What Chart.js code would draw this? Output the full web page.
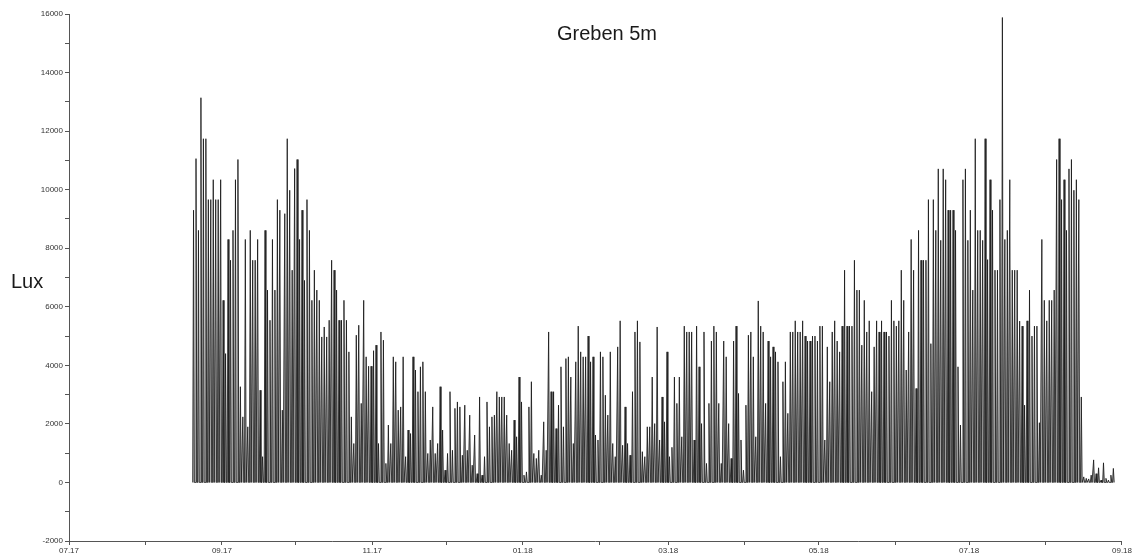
<!DOCTYPE html>
<html>
<head>
<meta charset="utf-8">
<script src="https://cdn.jsdelivr.net/npm/chart.js@4/dist/chart.umd.min.js"></script>
<style>
  html, body { margin: 0; padding: 0; background: #fff; }
  #wrap { width: 1133px; height: 558px; }
</style>
</head>
<body>
<div id="wrap"><canvas id="c" width="1133" height="558"></canvas></div>
<script>
// ---------- data ----------
const chartTitle = 'Greben 5m';
const yAxisLabel = 'Lux';
const axisOrigin = '2017-07-01';
const axisEnd = '2018-09-01';
const seriesStart = '2017-08-20';   // first day with readings

// daily peak illuminance (lux), one value per day from seriesStart
const peaksAugOct2017 = [9300, 11060, 8610, 13140, 11740, 11740, 9660, 9660, 10340, 9660,
  9660, 10340, 6220, 4400, 8300, 7590, 8610, 10340, 11030, 3270,
  2240, 8300, 1900, 8610, 7590, 7590, 8300, 3150, 880, 8610,
  6570, 5540, 8300, 6570, 9660, 9300, 2470, 9180, 11740, 9980,
  7250, 10720, 11030, 8300, 9300, 6900, 9660, 8610, 6220, 7250,
  6570, 6220, 4970, 5310, 4970, 5540, 7590, 7250, 6570, 5540,
  5540, 6220];
const peaksOctDec2017 = [5540, 4460, 2240, 1330, 5030, 5370, 2700, 6220, 4290,
  3970, 3970, 4500, 4690, 1330, 5140, 4860, 650, 1960, 1330,
  4290, 4120, 2470, 2580, 4290, 880, 1790, 1670, 4290, 3840,
  3100, 3950, 4120, 3100, 990, 1450, 2580, 990, 1330, 3270,
  1790, 420, 990, 3100, 1100, 2530, 2750, 2580, 930, 2640,
  1100, 2300, 590, 1620, 300, 2920, 250, 880, 2750, 1900,
  2240, 2300, 3100, 2920, 2920];
const peaksDecFeb2018 = [2920, 2300, 1330, 1100, 2130, 1560, 3600, 2750, 250, 360,
  2580, 3440, 990, 820, 1100, 250, 2070, 1100, 5140, 3100,
  3100, 1840, 2640, 3950, 1900, 4230, 4290, 3600, 1330, 4120,
  5340, 4460, 4290, 4290, 5000, 4120, 4290, 1620, 1450, 4460,
  4290, 2980, 2300, 4460, 1330, 880, 4630, 5520, 1270, 2580,
  1330, 930, 3100, 5140, 5520, 4800, 1050, 880, 1900, 1900,
  3600, 2010, 5310, 1450, 2920];
const peaksFebMay2018 = [2070, 4460, 880, 1200, 3600, 2700, 3600, 1560, 5340, 5140, 5140,
  5140, 1450, 5340, 3950, 2010, 5140, 650, 2700, 4830, 5340,
  5140, 2700, 650, 4830, 4290, 2010, 820, 4830, 5340, 3040,
  1450, 420, 2640, 5030, 5140, 4290, 1560, 6200, 5340, 5140,
  2700, 4830, 4290, 4630, 4460, 4120, 880, 3440, 4120, 2360,
  5140, 5140, 5520, 5140, 5140, 5520, 5000, 4830, 4830, 5000,
  5000, 4830, 5340, 5340];
const peaksMayJul2018 = [1450, 4630, 3440, 5140, 5520, 4830, 4460, 5340, 7250, 5340,
  5340, 5340, 7590, 6570, 6570, 4690, 6220, 5140, 5520, 3100,
  4630, 5520, 5140, 5520, 5140, 5140, 5000, 6220, 5520, 5340,
  5520, 7250, 6220, 3840, 5140, 8300, 7250, 3210, 8610, 7590,
  7590, 7590, 9660, 4740, 9660, 8610, 10710, 8270, 10710, 10340,
  9300, 9300, 9300, 8610, 3950, 1960, 10340, 10710, 8270, 9300,
  6570, 11740, 8610, 8610, 8270];
const peaksJulAug2018 = [11740, 7610, 10340, 9300, 7250, 7250, 9660, 15880, 8300, 8610,
  10340, 7250, 7250, 7250, 5510, 5340, 2640, 5520, 6570, 5000,
  5340, 5340, 2040, 8300, 6220, 5520, 6220, 6220, 6570, 11030,
  11740, 9660, 10340, 8610, 10710, 11030, 9980, 10340, 9660, 2920];
const peaksLateAug2018 = [190, 140, 120, 250, 770, 300, 500, 80, 670, 140, 80, 250, 480];

// axis ticks
const monthTicks = ['2017-07','2017-08','2017-09','2017-10','2017-11','2017-12','2018-01',
  '2018-02','2018-03','2018-04','2018-05','2018-06','2018-07','2018-08','2018-09'];
const monthTickLabels = ['07.17','','09.17','','11.17','','01.18','','03.18','','05.18','','07.18','','09.18'];
const yMin = -2000, yMax = 16000, yStep = 1000, yLabelStep = 2000;

// ---------- build ----------
const dailyPeakLux = [].concat(peaksAugOct2017, peaksOctDec2017, peaksDecFeb2018,
  peaksFebMay2018, peaksMayJul2018, peaksJulAug2018, peaksLateAug2018);

function dayOf(s) {
  const p = s.split('-').map(Number);
  const o = axisOrigin.split('-').map(Number);
  return (Date.UTC(p[0], p[1] - 1, p[2] || 1) - Date.UTC(o[0], o[1] - 1, o[2])) / 86400000;
}
const startDay = dayOf(seriesStart);
const points = [];
dailyPeakLux.forEach((v, i) => {
  const d = startDay + i;
  points.push({ x: d + 0.15, y: 0 }, { x: d + 0.5, y: v }, { x: d + 0.85, y: 0 });
});
const tickDays = monthTicks.map(dayOf);

const textPlugin = {
  id: 'texts',
  afterDraw(chart) {
    const ctx = chart.ctx;
    ctx.save();
    ctx.fillStyle = '#1a1a1a';
    ctx.font = '20px "Liberation Sans", Arial, sans-serif';
    ctx.textAlign = 'center';
    ctx.textBaseline = 'alphabetic';
    ctx.fillText(chartTitle, 607, 40);
    ctx.textAlign = 'left';
    ctx.fillText(yAxisLabel, 11, 288);
    ctx.restore();
  }
};

new Chart(document.getElementById('c'), {
  type: 'line',
  data: {
    datasets: [{
      data: points,
      borderColor: 'rgba(20,20,20,0.8)',
      backgroundColor: 'rgba(120,120,120,0.65)',
      borderWidth: 1,
      fill: 'origin',
      pointRadius: 0,
      tension: 0
    }]
  },
  options: {
    responsive: false,
    animation: false,
    devicePixelRatio: 1,
    layout: { padding: { top: 14, right: 7, left: 0, bottom: 0 } },
    plugins: { legend: { display: false }, tooltip: { enabled: false }, title: { display: false } },
    scales: {
      x: {
        type: 'linear',
        min: dayOf(axisOrigin),
        max: dayOf(axisEnd),
        afterBuildTicks: s => { s.ticks = tickDays.map(v => ({ value: v })); },
        afterFit: s => { s.height = 17; },
        grid: { drawOnChartArea: false, drawTicks: true, tickLength: 4, tickColor: '#555' },
        border: { display: true, color: '#555', width: 1 },
        ticks: {
          autoSkip: false, maxRotation: 0, padding: 1,
          color: '#333',
          font: { size: 8, family: '"Liberation Sans", Arial, sans-serif' },
          callback: (v, i) => monthTickLabels[i]
        }
      },
      y: {
        min: yMin, max: yMax,
        afterFit: s => { s.width = 69; },
        grid: { drawOnChartArea: false, drawTicks: true, tickLength: 4, tickColor: '#555' },
        border: { display: true, color: '#555', width: 1 },
        ticks: {
          stepSize: yStep, autoSkip: false, padding: 2,
          color: '#333',
          font: { size: 8, family: '"Liberation Sans", Arial, sans-serif' },
          callback: v => (v % yLabelStep === 0 ? String(v) : '')
        }
      }
    }
  },
  plugins: [textPlugin]
});
</script>
</body>
</html>
